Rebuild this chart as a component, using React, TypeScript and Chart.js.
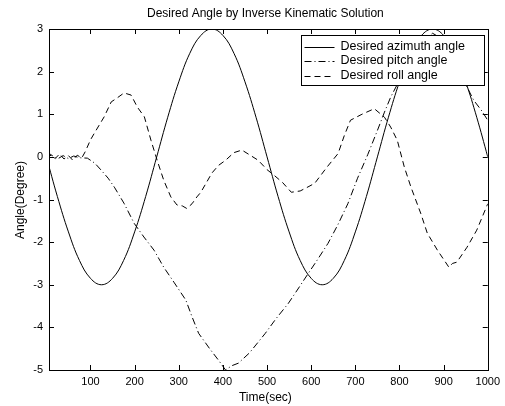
import React, { useEffect, useRef } from "react";
import { Chart, registerables } from "chart.js";

Chart.register(...registerables);

const FONT = "'Liberation Sans', Arial, Helvetica, sans-serif";

const chartTitle = "Desired Angle by Inverse Kinematic Solution";
const xTitle = "Time(sec)";
const yTitle = "Angle(Degree)";
const seriesNames = ["Desired azimuth angle", "Desired pitch angle", "Desired roll angle"];

const timeTicks = [100, 200, 300, 400, 500, 600, 700, 800, 900, 1000];
const angleTicks = [-5, -4, -3, -2, -1, 0, 1, 2, 3];

const azimuthT = [0, 25, 50, 75, 100, 125, 150, 175, 200, 225, 250, 275, 300, 325, 350, 375, 400, 425, 450, 475, 500, 525, 550, 575, 600, 625, 650, 675, 700, 725, 750, 775, 800, 825, 850, 875, 900, 925, 950, 975, 1000];
const azimuthV = [0, -0.93, -1.76, -2.43, -2.85, -3, -2.85, -2.43, -1.76, -0.93, 0, 0.93, 1.76, 2.43, 2.85, 3, 2.85, 2.43, 1.76, 0.93, 0, -0.93, -1.76, -2.43, -2.85, -3, -2.85, -2.43, -1.76, -0.93, 0, 0.93, 1.76, 2.43, 2.85, 3, 2.85, 2.43, 1.76, 0.93, 0];

const pitchT = [0, 12, 25, 38, 50, 62, 75, 93, 110, 124, 140, 154, 176, 199, 221, 244, 266, 289, 316, 330, 345, 370, 390, 406, 420, 435, 460, 496, 520, 548, 570, 593, 615, 638, 660, 683, 705, 728, 750, 766, 780, 800, 825, 850, 875, 900, 925, 953, 968, 985, 1000];
const pitchV = [0, 0.04, -0.05, 0.03, -0.04, 0.02, -0.02, -0.03, -0.15, -0.31, -0.5, -0.71, -1.09, -1.56, -1.88, -2.19, -2.59, -2.94, -3.36, -3.75, -4.14, -4.5, -4.77, -5.0, -4.9, -4.84, -4.6, -4.14, -3.8, -3.44, -3.1, -2.74, -2.4, -2.03, -1.6, -1.1, -0.5, 0.05, 0.62, 1.05, 1.4, 1.8, 2.3, 2.7, 2.9, 2.75, 2.3, 1.64, 1.33, 1.1, 0.86];

const rollT = [0, 10, 20, 30, 40, 50, 60, 70, 80, 88, 100, 109, 120, 131, 147, 160, 176, 192, 206, 222, 237, 251, 266, 282, 296, 308, 318, 330, 341, 350, 375, 390, 406, 425, 443, 460, 480, 500, 518, 535, 555, 575, 590, 608, 635, 661, 675, 689, 715, 743, 766, 780, 795, 811, 826, 848, 863, 886, 901, 912, 920, 930, 953, 975, 1000];
const rollV = [0, 0.06, -0.04, 0.07, -0.05, 0.03, -0.08, 0.04, -0.03, 0.12, 0.4, 0.56, 0.75, 0.94, 1.29, 1.38, 1.5, 1.45, 1.17, 0.94, 0.39, -0.08, -0.55, -0.94, -1.13, -1.15, -1.21, -1.1, -0.94, -0.83, -0.38, -0.2, -0.08, 0.1, 0.16, 0.05, -0.08, -0.3, -0.45, -0.6, -0.83, -0.8, -0.72, -0.62, -0.25, 0.08, 0.5, 0.86, 1.0, 1.13, 0.93, 0.7, 0.39, -0.24, -0.71, -1.32, -1.79, -2.19, -2.42, -2.59, -2.5, -2.47, -2.12, -1.72, -1.1];

const dashes = [[], [7, 3, 1, 3], [6, 4]];

const toPoints = (t: number[], v: number[]) => t.map((x, i) => ({ x, y: v[i] }));

const framePlugin = {
  id: "matlabFrame",
  afterDatasetsDraw(chart: any) {
    const { ctx, chartArea: a, scales } = chart;
    const xs = scales.x;
    const ys = scales.y;
    ctx.save();
    ctx.strokeStyle = "#000";
    ctx.lineWidth = 1;
    ctx.setLineDash([]);
    ctx.strokeRect(Math.round(a.left) + 0.5, Math.round(a.top) + 0.5, Math.round(a.right - a.left), Math.round(a.bottom - a.top));
    ctx.beginPath();
    timeTicks.forEach((v) => {
      const px = Math.round(xs.getPixelForValue(v)) + 0.5;
      ctx.moveTo(px, a.bottom);
      ctx.lineTo(px, a.bottom - 5);
      ctx.moveTo(px, a.top);
      ctx.lineTo(px, a.top + 5);
    });
    angleTicks.forEach((v) => {
      const py = Math.round(ys.getPixelForValue(v)) + 0.5;
      ctx.moveTo(a.left, py);
      ctx.lineTo(a.left + 5, py);
      ctx.moveTo(a.right, py);
      ctx.lineTo(a.right - 5, py);
    });
    ctx.stroke();

    // legend box
    const bw = 183;
    const bh = 50;
    const bx = Math.round(a.right - 4 - bw) + 0.5;
    const by = Math.round(a.top + 6) + 0.5;
    ctx.fillStyle = "#fff";
    ctx.fillRect(bx, by, bw, bh);
    ctx.strokeRect(bx, by, bw, bh);
    ctx.font = `12.5px ${FONT}`;
    ctx.fillStyle = "#000";
    ctx.textAlign = "left";
    ctx.textBaseline = "middle";
    seriesNames.forEach((name, i) => {
      const y = by + 11 + i * 14.5;
      ctx.beginPath();
      ctx.setLineDash(dashes[i]);
      ctx.moveTo(bx + 3, Math.round(y) + 0.5);
      ctx.lineTo(bx + 33, Math.round(y) + 0.5);
      ctx.stroke();
      ctx.setLineDash([]);
      ctx.fillText(name, bx + 39, y);
    });

    // titles
    ctx.font = `12px ${FONT}`;
    ctx.textAlign = "center";
    ctx.textBaseline = "middle";
    const cx = (a.left + a.right) / 2 - 3;
    ctx.fillText(chartTitle, cx, 14);
    ctx.fillText(xTitle, cx, 398);
    ctx.save();
    ctx.translate(21, 200);
    ctx.rotate(-Math.PI / 2);
    ctx.fillText(yTitle, 0, 0);
    ctx.restore();
    ctx.restore();
  },
};

export default function App() {
  const ref = useRef<HTMLCanvasElement | null>(null);
  useEffect(() => {
    if (!ref.current) return;
    const common = { borderColor: "#000", borderWidth: 1, pointRadius: 0, fill: false };
    const chart = new Chart(ref.current, {
      type: "line",
      data: {
        datasets: [
          { ...common, label: seriesNames[0], data: toPoints(azimuthT, azimuthV), tension: 0.4, borderDash: dashes[0] },
          { ...common, label: seriesNames[1], data: toPoints(pitchT, pitchV), tension: 0, borderDash: dashes[1] },
          { ...common, label: seriesNames[2], data: toPoints(rollT, rollV), tension: 0, borderDash: dashes[2] },
        ],
      },
      options: {
        animation: false,
        responsive: false,
        devicePixelRatio: 1,
        layout: { padding: { left: 0, top: 29, right: 14, bottom: 0 } },
        plugins: { legend: { display: false }, title: { display: false }, tooltip: { enabled: false } },
        scales: {
          x: {
            type: "linear",
            min: 6,
            max: 1000,
            afterBuildTicks: (s: any) => {
              s.ticks = timeTicks.map((value) => ({ value }));
            },
            afterFit: (s: any) => {
              s.height = 36;
            },
            ticks: { color: "#000", font: { family: FONT, size: 11 }, padding: 5, maxRotation: 0, autoSkip: false, callback: (v: any) => String(v) },
            grid: { display: false, drawTicks: false },
            border: { display: false },
          },
          y: {
            type: "linear",
            min: -5,
            max: 3,
            afterBuildTicks: (s: any) => {
              s.ticks = angleTicks.map((value) => ({ value }));
            },
            afterFit: (s: any) => {
              s.width = 49;
            },
            ticks: { color: "#000", font: { family: FONT, size: 11 }, padding: 6, callback: (v: any) => String(v) },
            grid: { display: false, drawTicks: false },
            border: { display: false },
          },
        },
      },
      plugins: [framePlugin],
    });
    return () => chart.destroy();
  }, []);
  return (
    <div style={{ position: "absolute", left: 0, top: 0, width: 505, height: 406, background: "#fff" }}>
      <canvas ref={ref} width={505} height={406} style={{ display: "block", width: 505, height: 406 }} />
    </div>
  );
}
